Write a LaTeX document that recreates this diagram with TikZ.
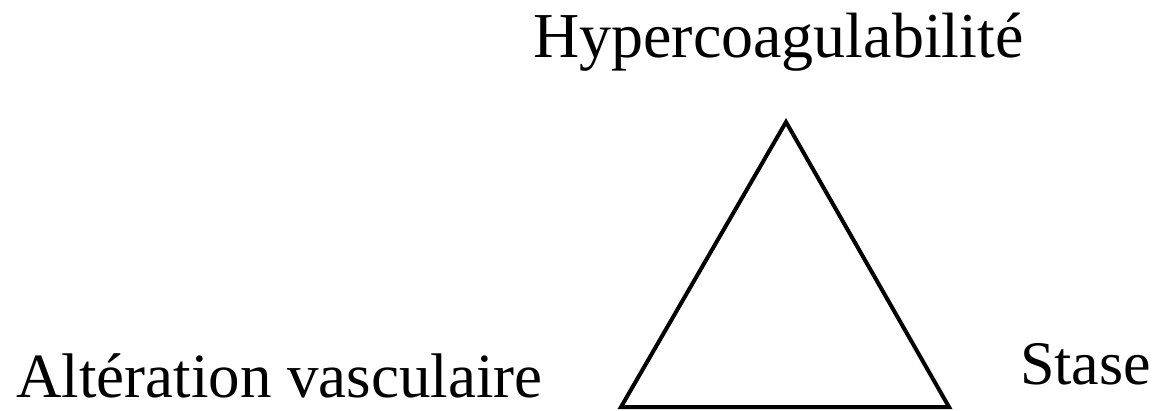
\documentclass[tikz,border=0pt]{standalone}
\usepackage{fontspec}
\setmainfont{Liberation Serif}
\begin{document}
\begin{tikzpicture}[x=1pt,y=-1pt,
  lbl/.style={inner sep=0pt, anchor=base west, font=\fontsize{64}{70}\selectfont},
  tri/.style={line width=4pt, line join=miter, draw=black}]
\useasboundingbox (0,0) rectangle (1155,411);
\node[lbl] (hyper) at (533,58) {Hypercoagulabilité};
\node[lbl, font=\fontsize{63}{70}\selectfont] (alter) at (16,397) {Altération vasculaire};
\node[lbl, font=\fontsize{62}{70}\selectfont] (stase) at (1020,384) {Stase};
\coordinate (top) at (786,122);
\coordinate (bl) at (621,407);
\coordinate (br) at (949,407);
\draw[tri] (top) -- (bl) -- (br) -- cycle;
\end{tikzpicture}
\end{document}
